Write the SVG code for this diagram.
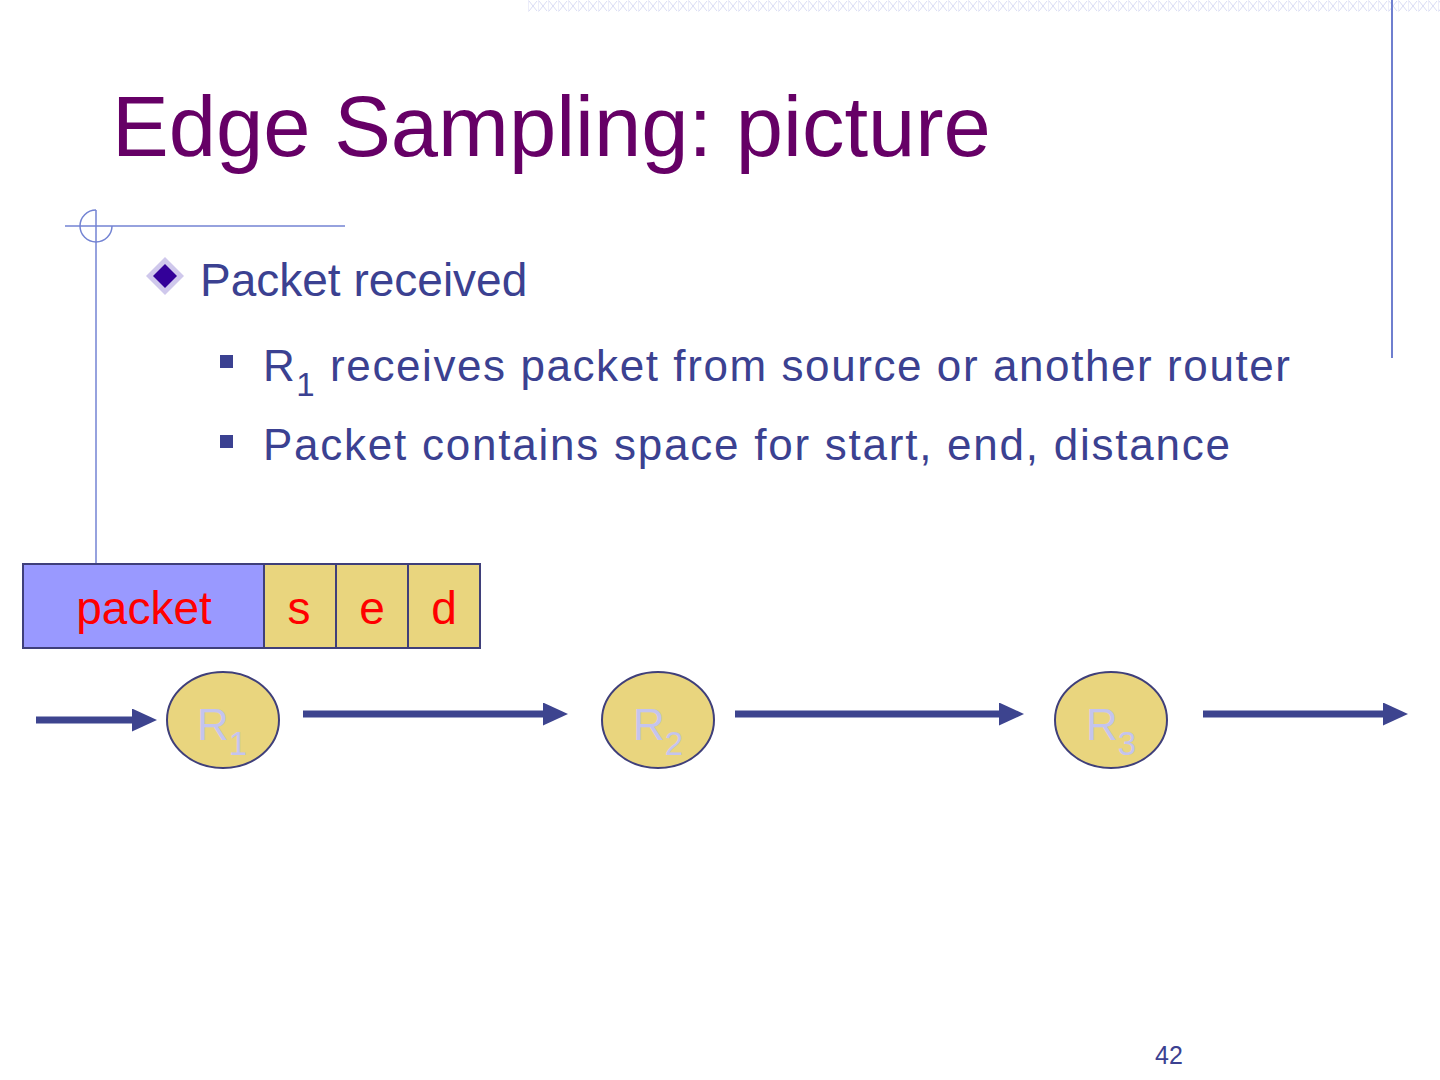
<svg xmlns="http://www.w3.org/2000/svg" width="1440" height="1080" viewBox="0 0 1440 1080">
<defs>
<style>
.title{font-family:"Liberation Sans",Arial,sans-serif;font-size:85px;fill:#660066}
.b1{font-family:"Liberation Sans",Arial,sans-serif;font-size:46px;fill:#3b4191}
.b2{font-family:"Liberation Sans",Arial,sans-serif;font-size:44px;fill:#3b4191}
.cell{font-family:"Liberation Sans",Arial,sans-serif;font-size:46px;fill:#ff0000;text-anchor:middle}
.rl{font-family:"Liberation Sans",Arial,sans-serif;font-size:44px;fill:#c4c4ee}
.deco{stroke:#7383d3;stroke-width:1.5;fill:none}
.node{fill:#e9d57e;stroke:#3f3f7a;stroke-width:2}
.conn{stroke:#3d448f;stroke-width:7;fill:none}
.pg{font-family:"Liberation Sans",Arial,sans-serif;font-size:25px;fill:#3b4191}
</style>
<marker id="ah" viewBox="0 0 25 23" refX="0" refY="11.5" markerWidth="25" markerHeight="23" markerUnits="userSpaceOnUse" orient="auto">
<path d="M0,0 L25,11.5 L0,23 z" fill="#3d448f"/>
</marker>
<pattern id="hatch" x="528" y="0" width="10" height="12" patternUnits="userSpaceOnUse">
<path d="M0,0 V12 M1,1 L9,11 M9,1 L1,11" stroke="#d9dcf3" stroke-width="1" fill="none"/>
</pattern>
</defs>
<rect width="1440" height="1080" fill="#ffffff"/>
<g id="decoration">
<rect x="528" y="0" width="912" height="12" fill="url(#hatch)"/>
<line x1="1392" y1="0" x2="1392" y2="358" stroke="#6f7fcf" stroke-width="2"/>
<line class="deco" x1="65" y1="226" x2="345" y2="226"/>
<line class="deco" x1="96" y1="210" x2="96" y2="564"/>
<path class="deco" d="M96,210 A16,16 0 1 0 112,226"/>
</g>
<g id="title">
<text class="title" x="112" y="156">Edge Sampling: picture</text>
</g>
<g id="bullets">
<path d="M146,276 L165,257 L184,276 L165,295 Z" fill="#cfc8ec"/>
<path d="M153,276 L165,264 L177,276 L165,288 Z" fill="#330099"/>
<text class="b1" x="200" y="296">Packet received</text>
<rect x="220" y="355" width="13" height="13" fill="#3b4191"/>
<text class="b2" x="263" y="381" textLength="1027" lengthAdjust="spacing">R<tspan font-size="33" dy="15">1</tspan><tspan dy="-15"> receives packet from source or another router</tspan></text>
<rect x="220" y="435" width="13" height="13" fill="#3b4191"/>
<text class="b2" x="263" y="460" textLength="967" lengthAdjust="spacing">Packet contains space for start, end, distance</text>
</g>
<g id="packet">
<rect x="23" y="564" width="241" height="84" fill="#9999ff" stroke="#3f3f7a" stroke-width="2"/>
<rect x="264" y="564" width="72" height="84" fill="#e9d57e" stroke="#3f3f7a" stroke-width="2"/>
<rect x="336" y="564" width="72" height="84" fill="#e9d57e" stroke="#3f3f7a" stroke-width="2"/>
<rect x="408" y="564" width="72" height="84" fill="#e9d57e" stroke="#3f3f7a" stroke-width="2"/>
<text class="cell" x="144" y="624">packet</text>
<text class="cell" x="299" y="624">s</text>
<text class="cell" x="372" y="624">e</text>
<text class="cell" x="444" y="624">d</text>
</g>
<g id="connectors">
<line class="conn" x1="36" y1="720" x2="132" y2="720" marker-end="url(#ah)"/>
<line class="conn" x1="303" y1="714" x2="543" y2="714" marker-end="url(#ah)"/>
<line class="conn" x1="735" y1="714" x2="999" y2="714" marker-end="url(#ah)"/>
<line class="conn" x1="1203" y1="714" x2="1383" y2="714" marker-end="url(#ah)"/>
</g>
<g id="R1">
<ellipse class="node" cx="223" cy="720" rx="56" ry="48"/>
<text class="rl" x="197" y="740">R<tspan font-size="33" dy="15">1</tspan></text>
</g>
<g id="R2">
<ellipse class="node" cx="658" cy="720" rx="56" ry="48"/>
<text class="rl" x="633" y="740">R<tspan font-size="33" dy="15">2</tspan></text>
</g>
<g id="R3">
<ellipse class="node" cx="1111" cy="720" rx="56" ry="48"/>
<text class="rl" x="1086" y="740">R<tspan font-size="33" dy="15">3</tspan></text>
</g>
<g id="page">
<text class="pg" x="1155" y="1064">42</text>
</g>
</svg>
